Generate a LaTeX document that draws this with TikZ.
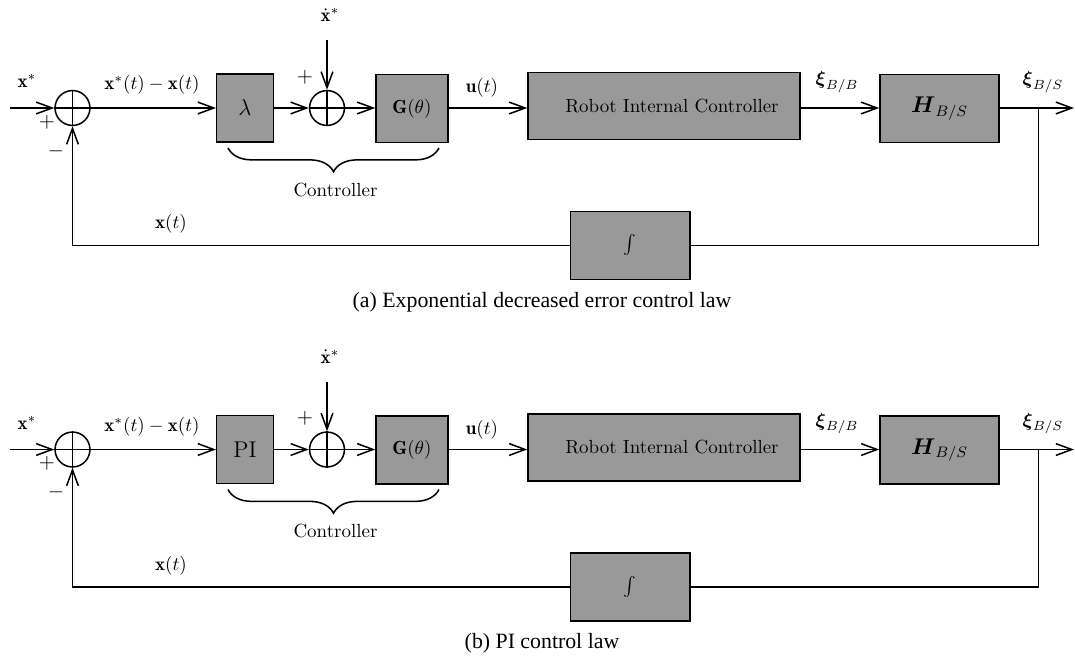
\documentclass[tikz,border=0pt]{standalone}
\usepackage{amsmath,amssymb}
\usepackage{fontspec}
\newfontfamily\capfont{Liberation Serif}
\usetikzlibrary{arrows.meta,decorations.pathreplacing,calc}
\definecolor{boxgray}{RGB}{153,153,153}
\tikzset{
  blk/.style={draw, fill=boxgray, line width=0.8pt, inner sep=0pt, rectangle},
  sumc/.style={draw, circle, line width=0.8pt, minimum size=18.4pt, inner sep=0pt},
  conn/.style={line width=0.8pt},
  arr/.style={conn, -{Straight Barb[length=8.4pt,width=6.2pt,line width=0.8pt]}},
  lbl/.style={inner sep=0pt},
  sgn/.style={inner sep=0pt, font=\fontsize{11}{13}\selectfont},
  captext/.style={inner sep=0pt, font=\capfont\fontsize{11.5}{14}\selectfont},
}
\newcommand\loopdiagram[2]{%
  \node[sumc] (s1) at (72.5,108) {};
  \draw[conn] (s1.north) -- (s1.south) (s1.west) -- (s1.east);
  \node[blk, minimum width=29.8pt, minimum height=36pt, font=\large] (lam) at (245,108) {#1};
  \node[sumc] (s2) at (327,108) {};
  \draw[conn] (s2.north) -- (s2.south) (s2.west) -- (s2.east);
  \node[blk, minimum width=37.9pt, minimum height=35.8pt] (G) at (412,108.5) {$\mathbf{G}(\theta)$};
  \node[blk, minimum width=143.3pt, minimum height=35.3pt] (R) at (664,106) {\hspace*{8.4pt}Robot Internal Controller};
  \node[blk, minimum width=62.7pt, minimum height=35.8pt, font=\large] (H) at (939.5,108.5) {$\boldsymbol{H}_{B/S}$};
  \node[blk, minimum width=62.9pt, minimum height=35.6pt] (I) at (630.3,245.5) {$\int$};
  \coordinate (in) at (10,108);
  \coordinate (xd) at (327,40);
  \coordinate (out) at (1074,108);
  \coordinate (br) at (1038.3,108);
  \coordinate (braceL) at (228,148);
  \coordinate (braceR) at (439,148);
  \draw[arr] (in) -- (s1.west);
  \draw[arr] (s1.east) -- (lam.west |- s1.east);
  \draw[arr] (lam.east |- s2.west) -- (s2.west);
  \draw[arr] (xd) -- (s2.north);
  \draw[arr] (s2.east) -- (G.west |- s2.east);
  \draw[arr] (G.east |- s2.east) -- (R.west |- s2.east);
  \draw[arr] (R.east |- s2.east) -- (H.west |- s2.east);
  \draw[arr] (H.east |- s2.east) -- (out);
  \draw[conn] (br) |- (I.east);
  \draw[arr] (I.west) -| (s1.south);
  \draw[conn, decorate, decoration={brace, mirror, amplitude=12.5pt}] (braceL) -- (braceR);
  \node[lbl] (lxs) at (27,81) {$\mathbf{x}^*$};
  \node[lbl] (lerr) at (152,85) {$\mathbf{x}^*(t)-\mathbf{x}(t)$};
  \node[sgn] (lp1) at (47,122) {$+$};
  \node[sgn] (lm1) at (56,151) {$-$};
  \node[sgn] (lp2) at (305,77) {$+$};
  \node[lbl] (lxd) at (330,15) {$\dot{\mathbf{x}}^*$};
  \node[lbl] (lu) at (482,88) {$\mathbf{u}(t)$};
  \node[lbl] (lxiB) at (837,82) {$\boldsymbol{\xi}_{B/B}$};
  \node[lbl] (lxiS) at (1043,82) {$\boldsymbol{\xi}_{B/S}$};
  \node[lbl] (lx) at (171,224) {$\mathbf{x}(t)$};
  \node[lbl] (lctrl) at (335.5,190) {Controller};
  \node[captext] (caption) at (542,302) {#2};
}
\begin{document}
\begin{tikzpicture}[x=0.527pt, y=-0.527pt]
  \useasboundingbox (0,0) rectangle (1075,659);
  \begin{scope}[name prefix=a-]
    \loopdiagram{$\lambda$}{(a) Exponential decreased error control law}
  \end{scope}
  \begin{scope}[shift={(0,341.5)}, name prefix=b-]
    \loopdiagram{PI}{(b) PI control law}
  \end{scope}
\end{tikzpicture}
\end{document}
